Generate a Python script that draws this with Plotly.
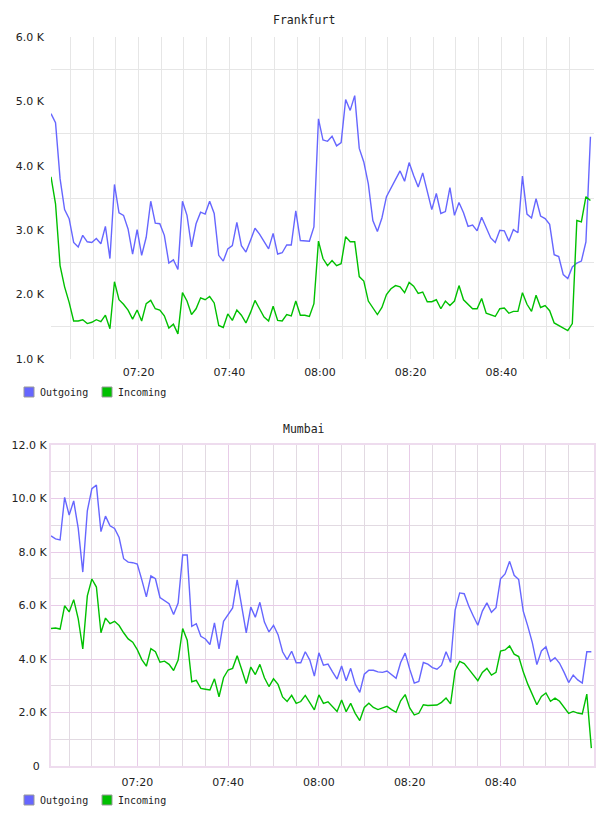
import pandas as pd
import plotly.graph_objects as go

# ---------------- data (values in thousands) ----------------
fra_outgoing = [
    4.81, 4.67, 3.80, 3.32, 3.18, 2.81, 2.74, 2.92, 2.82, 2.81,
    2.87, 2.79, 3.06, 2.56, 3.71, 3.27, 3.23, 3.02, 2.63, 3.01,
    2.61, 2.89, 3.45, 3.11, 3.10, 2.92, 2.49, 2.54, 2.39, 3.45,
    3.23, 2.74, 3.10, 3.28, 3.25, 3.45, 3.26, 2.61, 2.52, 2.71,
    2.76, 3.12, 2.76, 2.66, 2.84, 3.03, 2.94, 2.82, 2.71, 2.95,
    2.63, 2.65, 2.77, 2.77, 3.30, 2.84, 2.83, 2.83, 3.05, 4.73,
    4.40, 4.38, 4.46, 4.31, 4.36, 5.03, 4.86, 5.09, 4.27, 4.06,
    3.72, 3.15, 2.98, 3.19, 3.52, 3.65, 3.79, 3.92, 3.76, 4.05,
    3.85, 3.67, 3.89, 3.59, 3.32, 3.57, 3.26, 3.29, 3.66, 3.23,
    3.43, 3.27, 3.06, 3.08, 2.99, 3.20, 3.05, 2.88, 2.81, 3.00,
    2.99, 2.83, 3.01, 2.96, 3.84, 3.25, 3.19, 3.49, 3.22, 3.18,
    3.09, 2.62, 2.59, 2.31, 2.25, 2.43, 2.49, 2.52, 2.82, 4.45,
]
fra_incoming = [
    3.83, 3.41, 2.45, 2.12, 1.88, 1.59, 1.59, 1.61, 1.55, 1.57,
    1.61, 1.58, 1.68, 1.47, 2.20, 1.92, 1.85, 1.76, 1.62, 1.76,
    1.59, 1.86, 1.91, 1.78, 1.76, 1.67, 1.48, 1.54, 1.39, 2.03,
    1.90, 1.69, 1.78, 1.95, 1.92, 1.97, 1.87, 1.52, 1.49, 1.70,
    1.60, 1.76, 1.68, 1.56, 1.72, 1.91, 1.78, 1.65, 1.59, 1.82,
    1.60, 1.59, 1.69, 1.67, 1.90, 1.68, 1.68, 1.66, 1.86, 2.83,
    2.56, 2.45, 2.53, 2.45, 2.48, 2.90, 2.82, 2.82, 2.28, 2.21,
    1.90, 1.79, 1.69, 1.80, 2.00, 2.09, 2.14, 2.12, 2.03, 2.19,
    2.13, 2.02, 2.04, 1.89, 1.89, 1.92, 1.78, 1.90, 1.83, 1.90,
    2.14, 1.92, 1.85, 1.78, 1.78, 1.94, 1.71, 1.68, 1.66, 1.78,
    1.79, 1.71, 1.74, 1.74, 2.03, 1.85, 1.74, 1.99, 1.80, 1.83,
    1.75, 1.56, 1.52, 1.47, 1.44, 1.55, 3.15, 3.13, 3.52, 3.46,
]
mum_outgoing = [
    8.60, 8.49, 8.45, 10.04, 9.38, 9.91, 8.88, 7.25, 9.54, 10.37,
    10.50, 8.76, 9.34, 8.98, 8.88, 8.54, 7.75, 7.62, 7.60, 7.55,
    6.96, 6.32, 7.11, 7.00, 6.30, 6.18, 6.07, 5.66, 6.09, 7.89,
    7.89, 5.22, 5.32, 4.85, 4.75, 4.54, 5.35, 4.38, 5.41, 5.66,
    5.91, 6.96, 5.97, 4.98, 5.94, 5.56, 6.12, 5.38, 5.01, 5.26,
    4.91, 4.27, 3.98, 4.29, 3.86, 3.86, 4.27, 3.96, 3.36, 4.23,
    3.77, 3.81, 3.52, 3.25, 3.74, 3.19, 3.65, 3.06, 2.75, 3.43,
    3.58, 3.58, 3.52, 3.50, 3.55, 3.40, 3.28, 3.87, 4.22, 3.62,
    3.10, 3.16, 3.87, 3.81, 3.68, 3.62, 3.77, 4.27, 3.87, 5.83,
    6.47, 6.44, 5.98, 5.61, 5.26, 5.79, 6.10, 5.75, 5.92, 7.00,
    7.18, 7.65, 7.13, 6.97, 5.79, 5.23, 4.61, 3.79, 4.30, 4.46,
    3.91, 4.05, 3.84, 3.50, 3.12, 3.40, 3.22, 3.10, 4.27, 4.27,
]
mum_incoming = [
    5.14, 5.16, 5.12, 5.99, 5.76, 6.22, 5.50, 4.38, 6.36, 6.99,
    6.69, 4.98, 5.53, 5.32, 5.41, 5.25, 4.98, 4.75, 4.63, 4.35,
    3.98, 3.73, 4.39, 4.27, 3.88, 3.92, 3.80, 3.57, 3.96, 5.14,
    4.70, 3.15, 3.20, 2.90, 2.87, 2.84, 3.26, 2.59, 3.30, 3.59,
    3.65, 4.12, 3.61, 3.08, 3.70, 3.42, 3.80, 3.30, 2.97, 3.26,
    3.05, 2.58, 2.41, 2.64, 2.34, 2.41, 2.64, 2.37, 2.10, 2.66,
    2.34, 2.40, 2.22, 2.04, 2.47, 2.03, 2.34, 1.97, 1.70, 2.19,
    2.35, 2.19, 2.11, 2.16, 2.23, 2.11, 2.01, 2.44, 2.67, 2.17,
    1.91, 1.97, 2.29, 2.26, 2.26, 2.28, 2.38, 2.54, 2.32, 3.56,
    3.91, 3.83, 3.62, 3.40, 3.19, 3.50, 3.65, 3.40, 3.50, 4.30,
    4.34, 4.49, 4.18, 4.09, 3.52, 3.06, 2.69, 2.29, 2.60, 2.73,
    2.42, 2.54, 2.42, 2.19, 1.97, 2.04, 1.98, 1.95, 2.69, 0.67,
]

fra_start = "2024-01-01 07:00:40"
fra_end = "2024-01-01 09:00:27"
mum_start = "2024-01-01 07:01:00"
mum_end = "2024-01-01 09:00:35"

fra_yticks = [1, 2, 3, 4, 5, 6]
fra_yticktext = ["1.0 K", "2.0 K", "3.0 K", "4.0 K", "5.0 K", "6.0 K"]
fra_yminor = [1.5, 2.5, 3.5, 4.5, 5.5]
mum_yticks = [0, 2, 4, 6, 8, 10, 12]
mum_yticktext = ["0&nbsp;&nbsp;", "2.0 K", "4.0 K", "6.0 K", "8.0 K", "10.0 K", "12.0 K"]
mum_yminor = [1, 3, 5, 7, 9, 11]

x_labels = ["07:20", "07:40", "08:00", "08:20", "08:40"]
series_names = ["Outgoing", "Incoming"]
titles = ["Frankfurt", "Mumbai"]

# ---------------- styling ----------------
BLUE = "#6666ff"
GREEN = "#00c000"
GRID = "#e6e6e6"
PINK = "#e8cce8"
PINK_BORDER = "#eedcee"
MINOR_M = "#e2dae2"
TICK_FONT = dict(family="DejaVu Sans", size=11, color="#222")
MONO = "DejaVu Sans Mono"

W, H = 608, 816
fra_x = pd.date_range(fra_start, periods=len(fra_outgoing), freq="1min")
mum_x = pd.date_range(mum_start, periods=len(mum_outgoing), freq="1min")
major_x = pd.to_datetime(["2024-01-01 " + t for t in x_labels])
minor_x = pd.date_range("2024-01-01 07:05", "2024-01-01 08:55", freq="5min")

fig = go.Figure()
for xs, ys, col, xa, ya in [
    (fra_x, fra_outgoing, BLUE, "x", "y"),
    (fra_x, fra_incoming, GREEN, "x", "y"),
    (mum_x, mum_outgoing, BLUE, "x2", "y2"),
    (mum_x, mum_incoming, GREEN, "x2", "y2"),
]:
    fig.add_trace(go.Scatter(x=xs, y=ys, mode="lines", line=dict(color=col, width=1.4),
                             xaxis=xa, yaxis=ya, showlegend=False, hoverinfo="skip"))

def px_x(p):
    return p / W

def px_y(p):
    return 1 - p / H

xdom = [px_x(51), px_x(594)]
common_x = dict(type="date", domain=xdom, tickmode="array", tickvals=major_x, ticktext=x_labels,
                showgrid=True, zeroline=False, ticks="", tickfont=TICK_FONT, ticklabelstandoff=5,
                automargin=False)

fig.update_layout(
    template="none",
    width=W, height=H, autosize=False,
    margin=dict(l=0, r=0, t=0, b=0, pad=0, autoexpand=False),
    paper_bgcolor="white", plot_bgcolor="white",
    xaxis=dict(**common_x, anchor="y", range=[fra_start, fra_end], gridcolor=GRID, gridwidth=1,
               minor=dict(tickmode="array", tickvals=minor_x, showgrid=True, gridcolor=GRID, gridwidth=1)),
    yaxis=dict(domain=[px_y(359), px_y(37)], anchor="x", range=[1, 6], tickmode="array",
               tickvals=fra_yticks, ticktext=fra_yticktext, showgrid=False, zeroline=False,
               ticks="", tickfont=TICK_FONT, ticklabelstandoff=6, automargin=False, showline=False,
               minor=dict(tickmode="array", tickvals=fra_yminor, showgrid=True, gridcolor=GRID, gridwidth=1)),
    xaxis2=dict(**common_x, anchor="y2", range=[mum_start, mum_end], gridcolor=PINK, gridwidth=1,
                showline=True, mirror=True, linecolor=PINK_BORDER, linewidth=2,
                minor=dict(tickmode="array", tickvals=minor_x, showgrid=True, gridcolor=MINOR_M, gridwidth=1)),
    yaxis2=dict(domain=[px_y(766), px_y(445)], anchor="x2", range=[0, 12], tickmode="array",
                tickvals=mum_yticks, ticktext=mum_yticktext, showgrid=True, gridcolor=PINK, gridwidth=1,
                zeroline=False, ticks="", tickfont=TICK_FONT, ticklabelstandoff=0, automargin=False,
                showline=True, mirror=True, linecolor=PINK_BORDER, linewidth=2,
                minor=dict(tickmode="array", tickvals=mum_yminor, showgrid=True, gridcolor=MINOR_M, gridwidth=1)),
)

# titles
for t, yc in zip(titles, [20, 429]):
    fig.add_annotation(text=t, x=px_x(304), y=px_y(yc), xref="paper", yref="paper",
                       xanchor="center", yanchor="middle", showarrow=False,
                       font=dict(family=MONO, size=11.5, color="#222"))

# legends (box + label)
for yc in [392, 800]:
    for name, col, bx in zip(series_names, [BLUE, GREEN], [24, 102]):
        fig.add_shape(type="rect", xref="paper", yref="paper",
                      x0=px_x(bx), x1=px_x(bx + 10), y0=px_y(yc + 5), y1=px_y(yc - 5),
                      fillcolor=col, line=dict(color="#999999", width=1))
        fig.add_annotation(text=name, x=px_x(bx + 14), y=px_y(yc), xref="paper", yref="paper",
                           xanchor="left", yanchor="middle", showarrow=False,
                           font=dict(family=MONO, size=10, color="#222"))

fig.write_html("out.html", config={"responsive": False})
